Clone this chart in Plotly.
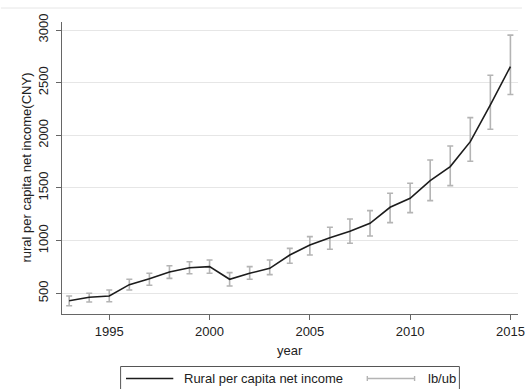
import plotly.graph_objects as go

# Rural per capita net income (CNY) with lower/upper bounds, 1993-2015
years = list(range(1993, 2016))
income = [430, 462, 474, 582, 639, 702, 743, 753, 633, 690, 737, 864,
          959, 1028, 1089, 1165, 1317, 1402, 1570, 1703, 1940, 2289, 2653]
lb = [382, 417, 420, 531, 576, 642, 686, 690, 569, 633, 677, 785,
      864, 918, 975, 1044, 1171, 1266, 1380, 1522, 1754, 2058, 2387]
ub = [474, 500, 531, 633, 690, 762, 800, 816, 696, 753, 816, 927,
      1038, 1127, 1206, 1285, 1450, 1545, 1766, 1899, 2168, 2571, 2951]

y_ticks = [500, 1000, 1500, 2000, 2500, 3000]
x_ticks = [1995, 2000, 2005, 2010, 2015]

W, H = 529, 389
L, R, T, B = 62, 525, 22, 314  # plot area in pixels


def px(x):
    return (x - L) / (R - L)


def py(y):
    return (B - y) / (B - T)


font = dict(family="Liberation Sans, Arial, sans-serif", size=13, color="#222")
bar_col = "#b4b4b4"
line_col = "#1c1c1c"

fig = go.Figure()

# lower/upper bound range caps
fig.add_trace(go.Scatter(
    x=years, y=income, mode="none", showlegend=False, hoverinfo="skip",
    error_y=dict(type="data", symmetric=False,
                 array=[u - v for u, v in zip(ub, income)],
                 arrayminus=[v - l for v, l in zip(income, lb)],
                 color=bar_col, thickness=1.6, width=3),
))

fig.add_trace(go.Scatter(
    x=years, y=income, mode="lines", showlegend=False,
    line=dict(color=line_col, width=1.6),
))

shapes = [
    # outer graph-region top border
    dict(type="line", xref="paper", yref="paper", x0=px(0), x1=px(W),
         y0=py(8), y1=py(8), line=dict(color="#e6e6e6", width=1)),
    # legend frame
    dict(type="rect", xref="paper", yref="paper", x0=px(121.5), x1=px(465.5),
         y0=py(366.5), y1=py(400), line=dict(color="#555", width=1)),
    # legend sample: income line
    dict(type="line", xref="paper", yref="paper", x0=px(127), x1=px(175),
         y0=py(378.5), y1=py(378.5), line=dict(color=line_col, width=1.6)),
    # legend sample: lb/ub range cap
    dict(type="line", xref="paper", yref="paper", x0=px(372), x1=px(420),
         y0=py(378.5), y1=py(378.5), line=dict(color=bar_col, width=1.4)),
    dict(type="line", xref="paper", yref="paper", x0=px(372), x1=px(372),
         y0=py(376), y1=py(381), line=dict(color=bar_col, width=1.4)),
    dict(type="line", xref="paper", yref="paper", x0=px(420), x1=px(420),
         y0=py(376), y1=py(381), line=dict(color=bar_col, width=1.4)),
]

annotations = [
    dict(text="rural per capita net income(CNY)", xref="paper", yref="paper",
         x=px(25), y=py(168), textangle=-90, showarrow=False, font=font,
         xanchor="center", yanchor="middle"),
    dict(text="year", xref="paper", yref="paper", x=px(293), y=py(350.5),
         showarrow=False, font=font, xanchor="center", yanchor="middle"),
    dict(text="Rural per capita net income", xref="paper", yref="paper",
         x=px(184), y=py(379), showarrow=False, font=font,
         xanchor="left", yanchor="middle"),
    dict(text="lb/ub", xref="paper", yref="paper", x=px(432), y=py(379),
         showarrow=False, font=font, xanchor="left", yanchor="middle"),
]

fig.update_layout(
    width=W, height=H,
    margin=dict(l=L, r=W - R, t=T, b=H - B, pad=0),
    paper_bgcolor="white", plot_bgcolor="white",
    font=font, showlegend=False,
    shapes=shapes, annotations=annotations,
    xaxis=dict(range=[1992.643, 2015.378], tickvals=x_ticks,
               showgrid=False, zeroline=False,
               showline=True, linecolor="#666", linewidth=1.2,
               ticks="outside", ticklen=5, tickcolor="#666", tickwidth=1.2,
               ticklabeloverflow="allow", tickfont=font),
    yaxis=dict(range=[303.5, 3076], tickvals=y_ticks,
               showgrid=True, gridcolor="#e6e6e6", gridwidth=1,
               zeroline=False,
               showline=True, linecolor="#666", linewidth=1.2,
               ticks="outside", ticklen=5, tickcolor="#666", tickwidth=1.2,
               ticklabelstandoff=3,
               tickangle=-90, tickfont=font),
)

fig.write_html("out.html")
